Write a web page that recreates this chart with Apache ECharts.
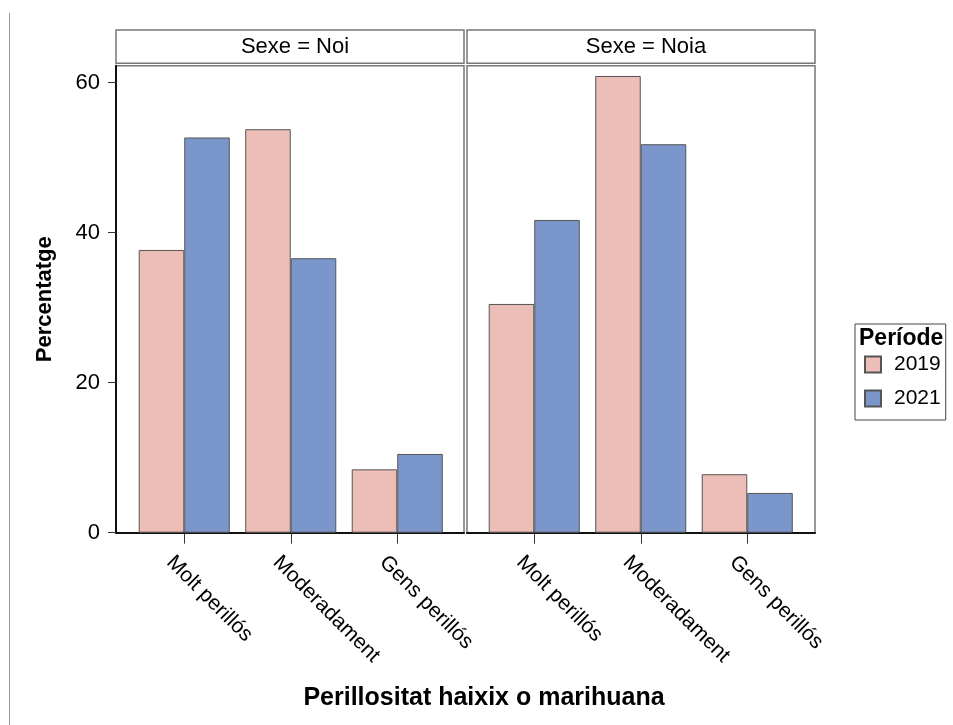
<!DOCTYPE html>
<html><head><meta charset="utf-8">
<script src="https://cdn.jsdelivr.net/npm/echarts@6/dist/echarts.min.js"></script>
<style>html,body{margin:0;padding:0;background:#fff}#c{width:953px;height:725px}</style>
</head><body><div id="c"></div>
<script>
const categories = ['Molt perillós', 'Moderadament', 'Gens perillós'];
const panels = ['Sexe = Noi', 'Sexe = Noia'];
const periods = ['2019', '2021'];
const noi2019 = [37.7, 53.8, 8.45];
const noi2021 = [52.7, 36.6, 10.5];
const noia2019 = [30.5, 60.9, 7.8];
const noia2021 = [41.7, 51.8, 5.3];
const yTicks = [0, 20, 40, 60];
const yMax = 62.27;
const yTitle = 'Percentatge';
const xTitle = 'Perillositat haixix o marihuana';
const legendTitle = 'Període';

const FONT = 'Liberation Sans, Arial, sans-serif';
const PINK = '#EDBDB7';
const BLUE = '#7B96CB';
const FRAME = '#777';

const chart = echarts.init(document.getElementById('c'), null, {renderer: 'canvas'});

const plotTop = 65.7, plotH = 467;
const grids = [
  {left: 131, top: plotTop, width: 319.5, height: plotH},
  {left: 481, top: plotTop, width: 319.5, height: plotH},
  {left: 116, top: plotTop, width: 348, height: plotH, show: true, borderColor: FRAME, borderWidth: 1.5},
  {left: 467, top: plotTop, width: 348, height: plotH, show: true, borderColor: FRAME, borderWidth: 1.5},
  {left: 116, top: 30, width: 348, height: 33.3, show: true, borderColor: FRAME, borderWidth: 1.5},
  {left: 467, top: 30, width: 348, height: 33.3, show: true, borderColor: FRAME, borderWidth: 1.5}
];

function catAxis(i) {
  return {
    type: 'category', gridIndex: i, data: categories, boundaryGap: true,
    axisLine: {show: false},
    axisTick: {show: true, alignWithLabel: true, length: 11, lineStyle: {color: '#333', width: 1}},
    axisLabel: {rotate: -45, margin: 12, padding: [10, 0, 0, 0], fontSize: 21, color: '#000', fontFamily: FONT, interval: 0, verticalAlign: 'top'}
  };
}
function frameX(i, showLine) {
  return {type: 'value', gridIndex: i, min: 0, max: 1, position: 'bottom',
    axisLine: {show: showLine, onZero: false, lineStyle: {color: '#111', width: 2}},
    axisTick: {show: false}, axisLabel: {show: false}, splitLine: {show: false}};
}
function hiddenY(i) {
  return {type: 'value', gridIndex: i, min: 0, max: yMax, show: false, splitLine: {show: false}};
}

const xAxes = [catAxis(0), catAxis(1), frameX(2, true), frameX(3, true), frameX(4, false), frameX(5, false)];
const yAxes = [
  {
    type: 'value', gridIndex: 0, min: 0, max: yMax, offset: 15,
    axisLine: {show: true, lineStyle: {color: '#111', width: 2}},
    axisTick: {show: true, length: 8, customValues: yTicks, lineStyle: {color: '#333', width: 1}},
    axisLabel: {customValues: yTicks, fontSize: 22, color: '#000', fontFamily: FONT, margin: 16},
    splitLine: {show: false},
    name: yTitle, nameLocation: 'middle', nameGap: 60,
    nameTextStyle: {fontSize: 22, fontWeight: 'bold', color: '#000', fontFamily: FONT}
  },
  hiddenY(1), hiddenY(2), hiddenY(3), hiddenY(4), hiddenY(5)
];

function bar(name, data, gi, color) {
  return {
    type: 'bar', name: name, data: data, xAxisIndex: gi, yAxisIndex: gi,
    barGap: '0%', barCategoryGap: '14.5%',
    itemStyle: {color: color, borderColor: '#555', borderWidth: 1},
    emphasis: {disabled: true}
  };
}

const option = {
  animation: false,
  backgroundColor: '#fff',
  textStyle: {fontFamily: FONT},
  grid: grids,
  xAxis: xAxes,
  yAxis: yAxes,
  title: [
    {text: panels[0], left: 290, top: 31, textAlign: 'center', textStyle: {fontSize: 22, fontWeight: 'normal', color: '#000', fontFamily: FONT}},
    {text: panels[1], left: 641, top: 31, textAlign: 'center', textStyle: {fontSize: 22, fontWeight: 'normal', color: '#000', fontFamily: FONT}},
    {text: xTitle, left: 479, top: 681, textAlign: 'center', textStyle: {fontSize: 25, fontWeight: 'bold', color: '#000', fontFamily: FONT}},
    {text: legendTitle, left: 859, top: 327, padding: 0, textStyle: {fontSize: 23, fontWeight: 'bold', color: '#000', fontFamily: FONT}}
  ],
  legend: {
    data: periods, orient: 'vertical', left: 855, top: 324, icon: 'rect',
    padding: [30, 5, 11, 9], itemGap: 13, itemWidth: 16, itemHeight: 16,
    borderColor: '#444', borderWidth: 1, selectedMode: false,
    textStyle: {fontSize: 21, color: '#000', fontFamily: FONT, padding: [0, 0, 0, 8]}
  },
  graphic: [
    {type: 'line', shape: {x1: 9.5, y1: 13, x2: 9.5, y2: 725}, style: {stroke: '#999', lineWidth: 1}}
  ],
  series: [
    bar(periods[0], noi2019, 0, PINK),
    bar(periods[1], noi2021, 0, BLUE),
    bar(periods[0], noia2019, 1, PINK),
    bar(periods[1], noia2021, 1, BLUE)
  ]
};
chart.setOption(option);
</script>
</body></html>
